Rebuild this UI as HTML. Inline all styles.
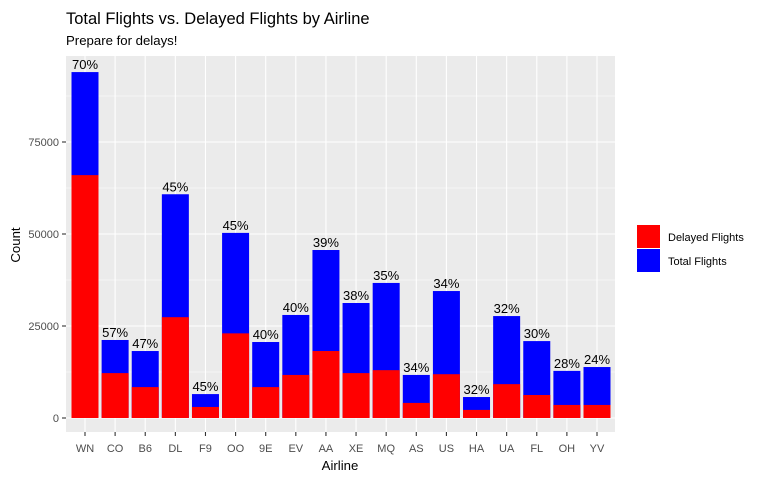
<!DOCTYPE html>
<html><head><meta charset="utf-8"><style>
body{margin:0;background:#fff;}
svg{display:block;font-family:"Liberation Sans",Arial,sans-serif;}
</style></head><body>
<svg id="chart" width="768" height="480">
<text x="66" y="24" font-size="16.5" fill="#000">Total Flights vs. Delayed Flights by Airline</text>
<text x="66" y="45" font-size="13.2" fill="#000">Prepare for delays!</text>
<rect x="66" y="56" width="549" height="376" fill="#ebebeb"/>
<g id="grid"></g><g id="bars"></g><g id="labels"></g><g id="axes"></g>
<text x="20" y="245" font-size="13.2" text-anchor="middle" transform="rotate(-90 20 245)">Count</text>
<text x="340" y="470" font-size="13.2" text-anchor="middle">Airline</text>
<g>
<rect x="637" y="225" width="23" height="23" fill="#ff0000"/>
<rect x="637" y="249" width="23" height="23" fill="#0000ff"/>
<text x="668" y="241" font-size="11">Delayed Flights</text>
<text x="668" y="265" font-size="11">Total Flights</text>
</g>
</svg>
<script>
const categories=["WN","CO","B6","DL","F9","OO","9E","EV","AA","XE","MQ","AS","US","HA","UA","FL","OH","YV"];
const totalFlights=[94000,21200,18200,60800,6500,50300,20650,28000,45650,31250,36700,11700,34500,5700,27700,20900,12800,13850];
const delayedFlights=[66000,12200,8400,27400,3000,23000,8400,11700,18200,12200,13000,4100,11900,2200,9200,6250,3550,3550];
const pctLabels=["70%","57%","47%","45%","45%","45%","40%","40%","39%","38%","35%","34%","34%","32%","32%","30%","28%","24%"];
const yTicks=[0,25000,50000,75000];
const NS="http://www.w3.org/2000/svg";
function y(v){return 418-v*92/25000;}
function x(i){return 85+i*(597-85)/17;}
function mk(parent,tag,attrs){const e=document.createElementNS(NS,tag);for(const k in attrs)e.setAttribute(k,attrs[k]);document.getElementById(parent).appendChild(e);return e;}
// minor grid
for(let i=0;i<yTicks.length;i++){const v=yTicks[i]+12500;if(y(v)>56){
const l=mk("grid","line",{x1:66,x2:615,y1:y(v),y2:y(v),stroke:"#fff","stroke-width":0.5});

}}
yTicks.forEach(v=>{
const l=mk("grid","line",{x1:66,x2:615,y1:y(v),y2:y(v),stroke:"#fff","stroke-width":1.1});


const t=mk("axes","text",{x:59,y:y(v)+4,"font-size":11,fill:"#4d4d4d","text-anchor":"end"});t.textContent=v;


const tk=mk("axes","line",{x1:62,x2:66,y1:y(v),y2:y(v),stroke:"#333","stroke-width":1.1});


});
categories.forEach((c,i)=>{
const g=mk("grid","line",{x1:x(i),x2:x(i),y1:56,y2:432,stroke:"#fff","stroke-width":1.1});


const w=27;
const b=mk("bars","rect",{x:x(i)-w/2,y:y(totalFlights[i]),width:w,height:418-y(totalFlights[i]),fill:"#0000ff"});


const r=mk("bars","rect",{x:x(i)-w/2,y:y(delayedFlights[i]),width:w,height:418-y(delayedFlights[i]),fill:"#ff0000"});


const lb=mk("labels","text",{x:x(i),y:y(totalFlights[i])-3,"font-size":13,"text-anchor":"middle",fill:"#000"});lb.textContent=pctLabels[i];


const tk=mk("axes","line",{x1:x(i),x2:x(i),y1:432,y2:436,stroke:"#333","stroke-width":1.1});


const t=mk("axes","text",{x:x(i),y:452,"font-size":11,fill:"#4d4d4d","text-anchor":"middle"});t.textContent=c;


});
</script>
</body></html>
